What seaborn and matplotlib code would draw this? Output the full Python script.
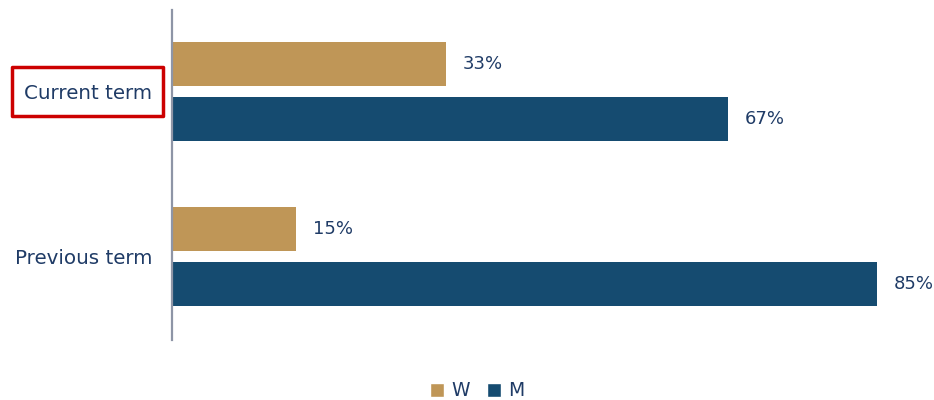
import matplotlib
matplotlib.use("Agg")
import matplotlib.pyplot as plt
import seaborn as sns
import pandas as pd
from matplotlib.patches import Rectangle, Patch

terms = ["Current term", "Previous term"]
genders = ["W", "M"]
women = [33, 15]
men = [67, 85]

df = pd.DataFrame({
    "term": terms * 2,
    "gender": ["W"] * len(terms) + ["M"] * len(terms),
    "share": women + men,
})

sns.set_theme(style="white")
plt.rcParams["font.family"] = ["DejaVu Sans"]

tan = "#BF9657"
navy = "#154B70"
text_col = "#1F3B66"

fig = plt.figure(figsize=(9.34, 4.0), dpi=100)
ax = fig.add_axes([172 / 934, 60 / 400, 746 / 934, 330 / 400])

sns.barplot(data=df, y="term", x="share", hue="gender", hue_order=genders,
            order=terms, palette=[tan, navy], orient="h", width=0.667, gap=0.2,
            saturation=1, legend=False, linewidth=0, ax=ax)

ax.set_xlim(0, 746 / (705 / 85))
ax.set_ylim(1.506, -0.494)
ax.set_xlabel("")
ax.set_ylabel("")
ax.set_xticks([])
for s in ["top", "right", "bottom"]:
    ax.spines[s].set_visible(False)
ax.spines["left"].set_color("#8E95A6")
ax.spines["left"].set_linewidth(1.6)
ax.tick_params(axis="y", length=0, pad=14, labelsize=14.3, labelcolor=text_col)

for cont in ax.containers:
    for bar in cont:
        w = bar.get_width()
        ax.text(w + 2.0, bar.get_y() + bar.get_height() / 2, f"{w:.0f}%",
                va="center", ha="left", fontsize=13, color=text_col)

# highlight box around the current term label
fig.patches.append(Rectangle((12 / 934, 1 - 116 / 400), 151 / 934, 49 / 400,
                             transform=fig.transFigure, fill=False,
                             edgecolor="#CC0000", linewidth=2.5, joinstyle="round"))

handles = [Patch(facecolor=tan, label="W"), Patch(facecolor=navy, label="M")]
fig.legend(handles=handles, loc="center", bbox_to_anchor=(477 / 934, 1 - 391 / 400),
           ncol=2, frameon=False, fontsize=13.5, handlelength=0.75, handleheight=0.75,
           handletextpad=0.4, columnspacing=0.9, labelcolor=text_col)

fig.savefig("out.png", dpi=100)
